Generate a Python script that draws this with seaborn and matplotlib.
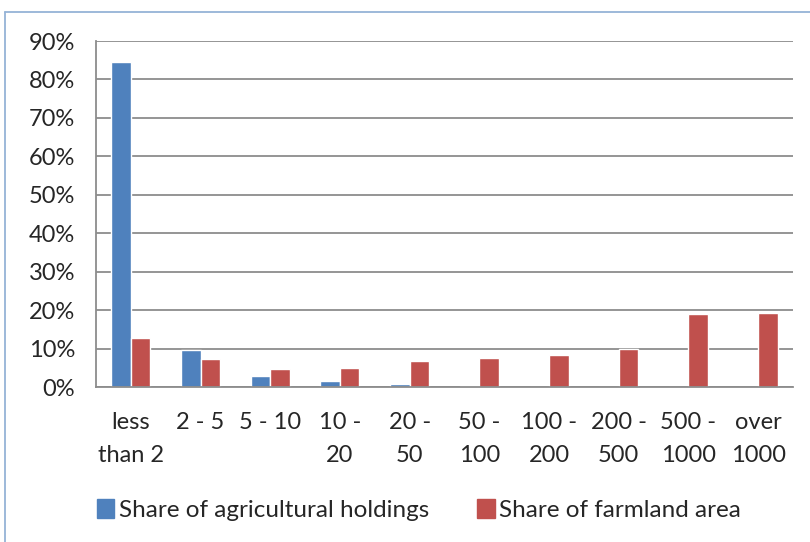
import matplotlib
matplotlib.use("Agg")

import matplotlib.pyplot as plt
import matplotlib.patches as mpatches
import seaborn as sns
import pandas as pd

# =========================================================
# DATA
# =========================================================

size_groups = [
    "less\nthan 2", "2 - 5", "5 - 10", "10 -\n20", "20 -\n50",
    "50 -\n100", "100 -\n200", "200 -\n500", "500 -\n1000", "over\n1000"
]

holdings_share = [84.5, 9.6, 2.9, 1.5, 0.9, 0.3, 0.1, 0.05, 0.02, 0.01]
farmland_share = [12.7, 7.2, 4.7, 5.0, 6.8, 7.5, 8.4, 10.0, 19.0, 19.2]

series_names = ["Share of agricultural holdings", "Share of farmland area"]
series_colors = ["#4F81BD", "#C0504D"]

df = pd.DataFrame({
    "group": size_groups * 2,
    "series": [series_names[0]] * len(size_groups) + [series_names[1]] * len(size_groups),
    "value": holdings_share + farmland_share,
})

# =========================================================
# PLOT
# =========================================================

sns.set_style("white")
plt.rcParams["font.family"] = ["Lato", "DejaVu Sans"]

font_size = 17

fig = plt.figure(figsize=(8.1, 5.42), dpi=100)
ax = fig.add_axes([96 / 810, 1 - 387 / 542, 697 / 810, 346 / 542])

sns.barplot(
    data=df,
    x="group",
    y="value",
    hue="series",
    palette=series_colors,
    width=0.56,
    saturation=1,
    ax=ax,
    legend=False,
)

ax.set_ylim(0, 90)
ax.set_xlim(-0.5, len(size_groups) - 0.5)
ax.set_yticks(range(0, 91, 10))
ax.set_yticklabels([f"{v}%" for v in range(0, 91, 10)])
ax.set_xlabel("")
ax.set_ylabel("")

grid_color = "#8C8C8C"
ax.yaxis.grid(True, color=grid_color, linewidth=1.3)
ax.set_axisbelow(True)

for side in ["top", "right"]:
    ax.spines[side].set_visible(False)
for side in ["left", "bottom"]:
    ax.spines[side].set_color(grid_color)
    ax.spines[side].set_linewidth(1.3)

# category ticks sit between groups
ax.set_xticks([i - 0.5 for i in range(len(size_groups) + 1)], minor=True)
ax.tick_params(axis="x", which="minor", length=9, color=grid_color, width=1.3)
ax.tick_params(axis="x", which="major", length=0, pad=18, labelsize=font_size)
ax.tick_params(axis="y", length=8, color=grid_color, width=1.3, pad=7, labelsize=font_size)
for lbl in ax.get_xticklabels():
    lbl.set_linespacing(1.7)

handles = [
    mpatches.Patch(color=c, label=n)
    for c, n in zip(series_colors, series_names)
]
fig.legend(
    handles=handles,
    loc="center",
    bbox_to_anchor=(419 / 810, 1 - 510 / 542),
    ncol=2,
    frameon=False,
    fontsize=17.5,
    handlelength=0.7,
    handleheight=0.8,
    handletextpad=0.2,
    columnspacing=2.0,
)

# frame of the surrounding figure box
frame_color = "#95B3D7"
fig.add_artist(plt.Line2D([5 / 810, 5 / 810], [0, 1 - 12 / 542], color=frame_color, linewidth=1.3))
fig.add_artist(plt.Line2D([5 / 810, 1], [1 - 12 / 542, 1 - 12 / 542], color=frame_color, linewidth=1.3))

fig.savefig("out.png", dpi=100)
plt.close(fig)
